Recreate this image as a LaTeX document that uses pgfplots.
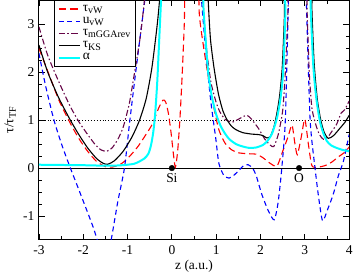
\documentclass[border=0pt]{standalone}
\usepackage{fontspec}
\setmainfont{Liberation Serif}
\usepackage{pgfplots}
\pgfplotsset{compat=1.18}
\definecolor{mgmaroon}{RGB}{103,7,72}
\definecolor{mgcyan}{RGB}{0,255,255}
\definecolor{mgred}{RGB}{255,0,0}
\definecolor{mgblue}{RGB}{0,0,255}
\newcommand\sub[1]{\raisebox{-0.4ex}{\fontsize{10}{11}\selectfont #1}}
\begin{document}
\fontsize{13.5}{15}\selectfont
\begin{tikzpicture}
\begin{axis}[
  scale only axis, width=311pt, height=240pt,
  xmin=-3, xmax=4, ymin=-1.5, ymax=3.5,
  xtick={-3,-2,-1,0,1,2,3,4}, ytick={-1,0,1,2,3},
  minor x tick num=1, minor y tick num=3,
  tick align=inside,
  major tick length=6pt, minor tick length=3.5pt,
  tick style={black, line width=0.8pt},
  axis line style={line width=1pt},
  /pgf/number format/assume math mode=true,
  tick label style={font=\fontsize{13.5}{15}\selectfont},
  xticklabel style={yshift=-1pt},
  xlabel={z (a.u.)}, ylabel={τ/τ\sub{TF}},
  label style={font=\fontsize{13.5}{15}\selectfont},
  xlabel style={yshift=4pt}, ylabel style={yshift=-2pt},
  legend style={at={(0.05,1)}, anchor=north west, draw=black, line width=0.8pt,
    font=\fontsize{13.5}{15}\selectfont, inner xsep=3pt, inner ysep=2pt, row sep=0pt},
  legend cell align=left,
  legend image code/.code={\draw[#1] plot coordinates {(0pt,0pt) (21pt,0pt)};},
]
\addplot[black, dotted, line width=0.9pt, forget plot] coordinates {(-3,1) (4,1)};
\addplot[black, line width=0.9pt, forget plot] coordinates {(-3,0) (4,0)};

% tau_vW
\addplot[mgred, line width=1.1pt, dash pattern=on 7pt off 4pt, smooth, tension=0.4] coordinates {
(-3,2.5) (-2.75,1.9) (-2.55,1.42) (-2.3,0.95) (-2.1,0.62) (-1.9,0.35) (-1.7,0.14) (-1.5,0.03) (-1.35,0.02) (-1.2,0.06) (-1.07,0.14) (-0.9,0.3) (-0.75,0.47) (-0.6,0.68) (-0.44,0.92) (-0.3,1.25) (-0.2,1.42) (-0.14,1.38) (-0.08,1.15) (-0.02,0.75) (0.04,0.25) (0.08,0.02) (0.13,0.35) (0.18,1.0) (0.23,1.9) (0.28,3.0) (0.32,4.2) (0.58,4.2) (0.62,3.2) (0.72,2.5) (0.84,1.8) (0.95,1.25) (1.06,0.8) (1.2,0.52) (1.35,0.38) (1.5,0.32) (1.7,0.3) (1.9,0.29) (2.05,0.22) (2.2,0.11) (2.37,0.04) (2.5,0.35) (2.62,0.65) (2.71,0.9) (2.77,0.55) (2.83,0.28) (2.92,0.65) (3.0,1.02) (3.08,0.5) (3.16,0.05) (3.3,0.02) (3.45,0.05) (3.6,0.12) (3.75,0.23) (3.9,0.33) (4.0,0.44)};
\addlegendentry{τ\sub{vW}}

% u_vW
\addplot[mgblue, line width=1.1pt, dash pattern=on 5pt off 3.5pt, smooth, tension=0.4] coordinates {
(-3,2.4) (-2.85,1.72) (-2.66,1.0) (-2.47,0.45) (-2.29,0) (-2.1,-0.45) (-1.9,-0.93) (-1.77,-1.25) (-1.65,-1.6) (-1.55,-1.9) (-1.45,-1.75) (-1.37,-1.5) (-1.22,-0.7) (-1.07,0) (-0.96,0.9) (-0.85,1.75) (-0.73,2.64) (-0.6,3.6) (-0.55,4.2) (0.62,4.2) (0.67,3.5) (0.75,2.6) (0.87,1.46) (0.99,0.62) (1.06,0.1) (1.17,-0.15) (1.29,-0.21) (1.4,-0.15) (1.51,-0.05) (1.62,0.05) (1.72,0.07) (1.82,0.0) (1.9,-0.15) (2.03,-0.55) (2.18,-0.9) (2.31,-1.08) (2.4,-0.7) (2.48,0) (2.56,1.0) (2.63,3.5) (2.65,4.2) (3.01,4.2) (3.04,3.3) (3.12,1.0) (3.23,0) (3.31,-0.6) (3.40,-1.1) (3.52,-0.85) (3.64,-0.55) (3.76,-0.15) (3.87,0.14) (4.0,0.7)};
\addlegendentry{u\sub{vW}}

% tau_mGGArev
\addplot[mgmaroon, line width=1.1pt, dash pattern=on 6pt off 2.5pt on 1.5pt off 2.5pt, smooth, tension=0.4] coordinates {
(-3,2.95) (-2.8,2.35) (-2.55,1.8) (-2.3,1.3) (-2.1,0.97) (-1.9,0.7) (-1.73,0.49) (-1.6,0.38) (-1.47,0.35) (-1.35,0.42) (-1.22,0.6) (-1.1,0.85) (-0.96,1.35) (-0.85,1.95) (-0.72,2.7) (-0.62,3.5) (-0.57,4.2) (0.64,4.2) (0.7,3.4) (0.78,2.5) (0.88,1.8) (0.99,1.4) (1.08,1.18) (1.2,1.02) (1.36,0.96) (1.5,1.02) (1.62,1.08) (1.7,1.1) (1.8,1.02) (1.96,0.82) (2.1,0.6) (2.22,0.48) (2.3,0.45) (2.4,0.7) (2.5,1.2) (2.56,2.0) (2.62,3.3) (2.64,4.2) (3.02,4.2) (3.05,3.3) (3.1,2.0) (3.16,1.25) (3.25,0.9) (3.33,0.7) (3.42,0.6) (3.52,0.65) (3.62,0.78) (3.72,0.92) (3.82,1.15) (3.9,1.22) (4.0,1.4)};
\addlegendentry{τ\sub{mGGArev}}

% tau_KS
\addplot[black, line width=1.1pt, smooth, tension=0.4] coordinates {
(-3,2.57) (-2.8,2.0) (-2.55,1.46) (-2.29,1.0) (-2.1,0.7) (-1.9,0.42) (-1.7,0.2) (-1.55,0.1) (-1.45,0.08) (-1.3,0.15) (-1.1,0.35) (-0.9,0.65) (-0.73,1.0) (-0.58,1.45) (-0.45,2.1) (-0.33,3.0) (-0.27,3.6) (-0.24,4.2) (0.8,4.2) (0.82,3.5) (0.87,2.7) (0.95,2.1) (1.05,1.55) (1.15,1.2) (1.25,1.0) (1.35,0.87) (1.45,0.8) (1.6,0.74) (1.8,0.71) (1.95,0.7) (2.05,0.68) (2.14,0.63) (2.22,0.66) (2.3,0.85) (2.36,1.1) (2.43,1.5) (2.49,2.1) (2.54,3.2) (2.56,4.2) (3.14,4.2) (3.16,3.3) (3.21,2.2) (3.28,1.45) (3.36,1.0) (3.44,0.74) (3.53,0.62) (3.65,0.68) (3.79,0.83) (3.9,0.95) (4.0,1.1)};
\addlegendentry{τ\sub{KS}}

% alpha
\addplot[mgcyan, line width=2pt, smooth, tension=0.4] coordinates {
(-3,0.07) (-2.5,0.065) (-2,0.06) (-1.5,0.05) (-1.2,0.055) (-1.0,0.07) (-0.85,0.09) (-0.75,0.13) (-0.62,0.2) (-0.53,0.3) (-0.47,0.48) (-0.42,0.75) (-0.38,1.1) (-0.33,1.8) (-0.28,2.8) (-0.24,3.6) (-0.22,4.2) (0.68,4.2) (0.71,3.4) (0.76,2.7) (0.82,2.0) (0.9,1.5) (1.0,1.12) (1.1,0.88) (1.2,0.72) (1.3,0.6) (1.45,0.5) (1.6,0.45) (1.75,0.42) (1.9,0.43) (2.05,0.48) (2.15,0.56) (2.25,0.7) (2.32,0.88) (2.38,1.08) (2.45,1.45) (2.51,2.0) (2.56,3.2) (2.58,4.2) (3.11,4.2) (3.13,3.4) (3.19,2.15) (3.26,1.45) (3.34,0.98) (3.42,0.72) (3.5,0.56) (3.6,0.47) (3.72,0.42) (3.85,0.38) (4.0,0.35)};
\addlegendentry{α}

\addplot[only marks, mark=*, mark size=2.8pt, black, forget plot] coordinates {(0,0) (2.87,0)};
\node[below, inner sep=2pt] at (axis cs:0,-0.06) {Si};
\node[below, inner sep=2pt] at (axis cs:2.87,-0.06) {O};
\end{axis}
\end{tikzpicture}
\end{document}
